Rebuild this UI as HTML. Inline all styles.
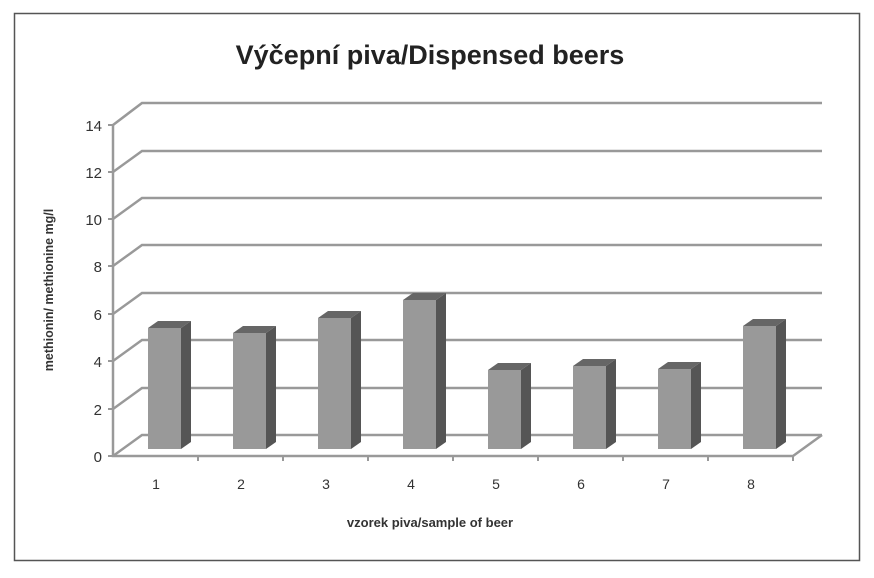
<!DOCTYPE html>
<html><head><style>body{margin:0;background:#fff}</style></head><body>
<svg width="874" height="573" xmlns="http://www.w3.org/2000/svg" font-family="Liberation Sans, sans-serif">
<rect x="0" y="0" width="874" height="573" fill="#fff"/>
<rect x="14.5" y="13.5" width="845" height="547" fill="none" stroke="#555" stroke-width="1.5"/>
<text x="430" y="64" text-anchor="middle" font-size="27" font-weight="bold" fill="#222">Výčepní piva/Dispensed beers</text>
<g stroke="#999" stroke-width="2.5" fill="none">
<path d="M113,456 L142,435 L822,435"/>
<path d="M113,409 L142,388 L822,388"/>
<path d="M113,361 L142,340 L822,340"/>
<path d="M113,314 L142,293 L822,293"/>
<path d="M113,266 L142,245 L822,245"/>
<path d="M113,219 L142,198 L822,198"/>
<path d="M113,172 L142,151 L822,151"/>
<path d="M113,125 L142,103 L822,103"/>
<path d="M113,125 L113,456 L793,456 L822,435"/>
</g>
<g stroke="#999" stroke-width="2">
<path d="M108,125h5M108,172h5M108,219h5M108,266h5M108,314h5M108,361h5M108,409h5M108,456h5"/>
<path d="M198,456v5M283,456v5M368,456v5M453,456v5M538,456v5M623,456v5M708,456v5M793,456v5"/>
</g>
<g font-size="15" fill="#333" text-anchor="end">
<text x="102" y="131">14</text><text x="102" y="178">12</text><text x="102" y="225">10</text><text x="102" y="272">8</text><text x="102" y="320">6</text><text x="102" y="367">4</text><text x="102" y="415">2</text><text x="102" y="462">0</text>
</g>
<g font-size="14" fill="#333" text-anchor="middle">
<text x="156" y="489">1</text><text x="241" y="489">2</text><text x="326" y="489">3</text><text x="411" y="489">4</text><text x="496" y="489">5</text><text x="581" y="489">6</text><text x="666" y="489">7</text><text x="751" y="489">8</text>
</g>
<text x="430" y="527" text-anchor="middle" font-size="13" font-weight="bold" fill="#333">vzorek piva/sample of beer</text>
<text transform="translate(53,290) rotate(-90)" text-anchor="middle" font-size="12.5" font-weight="bold" fill="#333">methionin/ methionine mg/l</text>
<g>
<polygon points="181,328 191,321 191,442 181,449" fill="#555"/><polygon points="148,328 158,321 191,321 181,328" fill="#666"/><rect x="148" y="328" width="33" height="121" fill="#999"/>
<polygon points="266,333 276,326 276,442 266,449" fill="#555"/><polygon points="233,333 243,326 276,326 266,333" fill="#666"/><rect x="233" y="333" width="33" height="116" fill="#999"/>
<polygon points="351,318 361,311 361,442 351,449" fill="#555"/><polygon points="318,318 328,311 361,311 351,318" fill="#666"/><rect x="318" y="318" width="33" height="131" fill="#999"/>
<polygon points="436,300 446,293 446,442 436,449" fill="#555"/><polygon points="403,300 413,293 446,293 436,300" fill="#666"/><rect x="403" y="300" width="33" height="149" fill="#999"/>
<polygon points="521,370 531,363 531,442 521,449" fill="#555"/><polygon points="488,370 498,363 531,363 521,370" fill="#666"/><rect x="488" y="370" width="33" height="79" fill="#999"/>
<polygon points="606,366 616,359 616,442 606,449" fill="#555"/><polygon points="573,366 583,359 616,359 606,366" fill="#666"/><rect x="573" y="366" width="33" height="83" fill="#999"/>
<polygon points="691,369 701,362 701,442 691,449" fill="#555"/><polygon points="658,369 668,362 701,362 691,369" fill="#666"/><rect x="658" y="369" width="33" height="80" fill="#999"/>
<polygon points="776,326 786,319 786,442 776,449" fill="#555"/><polygon points="743,326 753,319 786,319 776,326" fill="#666"/><rect x="743" y="326" width="33" height="123" fill="#999"/>
</g>
</svg>
</body></html>
